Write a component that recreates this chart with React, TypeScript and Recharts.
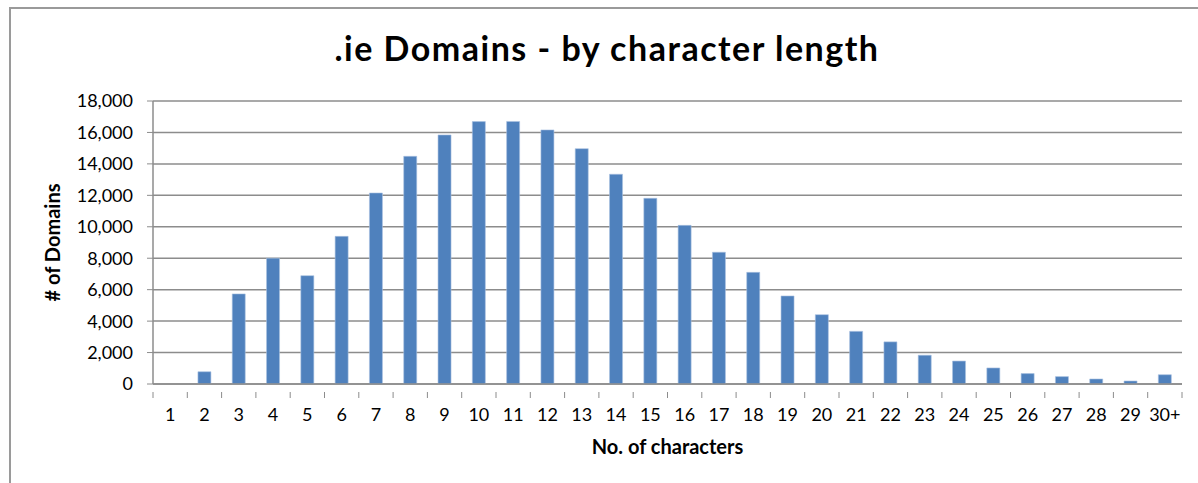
import { Bar, BarChart, CartesianGrid, XAxis, YAxis } from 'recharts';

// values
const lengths = ['1', '2', '3', '4', '5', '6', '7', '8', '9', '10', '11', '12', '13', '14', '15',
  '16', '17', '18', '19', '20', '21', '22', '23', '24', '25', '26', '27', '28', '29', '30+'];
const domainCounts = [0, 780, 5730, 8000, 6890, 9390, 12150, 14480, 15840, 16690, 16700, 16160,
  14970, 13340, 11810, 10090, 8380, 7100, 5600, 4410, 3350, 2680, 1830, 1460, 1020, 660, 470,
  320, 190, 590];
const yTicks = [0, 2000, 4000, 6000, 8000, 10000, 12000, 14000, 16000, 18000];

const data = lengths.map((len, i) => ({ len, count: domainCounts[i] }));

const FONT = 'Lato, "Open Sans", sans-serif';
const GRID = '#8c8c8c';
const BAR = '#4f81bd';
const W = 1198;
const H = 483;
const PLOT_LEFT = 153;
const PLOT_RIGHT = 1182;
const BAND = (PLOT_RIGHT - PLOT_LEFT) / lengths.length;

// Excel puts the x tick marks between categories, not under them
function CategoryTick(props: any) {
  const { x, y, payload, index } = props;
  const left = x - BAND / 2;
  return (
    <g>
      <line x1={left} x2={left} y1={y} y2={y + 6} stroke={GRID} />
      {index === lengths.length - 1 && (
        <line x1={left + BAND} x2={left + BAND} y1={y} y2={y + 6} stroke={GRID} />
      )}
      <text x={x} y={y + 29} textAnchor="middle" fontFamily={FONT} fontSize={18} fill="#000">
        {payload.value}
      </text>
    </g>
  );
}

export default function App() {
  return (
    <div style={{ position: 'fixed', left: 0, top: 0, width: W, height: H, overflow: 'hidden', background: '#fff' }}>
      <div
        style={{
          position: 'absolute',
          left: 9,
          top: 7,
          width: W,
          height: H,
          borderLeft: '2px solid #9a9a9a',
          borderTop: '2px solid #9a9a9a',
        }}
      />
      <div
        style={{
          position: 'absolute',
          left: 0,
          width: W,
          top: 27,
          textAlign: 'center',
          fontFamily: FONT,
          fontWeight: 700,
          fontSize: 34,
          letterSpacing: 1.5,
          paddingLeft: 16,
          boxSizing: 'border-box',
        }}
      >
        .ie Domains - by character length
      </div>
      <BarChart
        width={W}
        height={H}
        data={data}
        margin={{ top: 101, right: W - PLOT_RIGHT, bottom: 0, left: PLOT_LEFT - 60 }}
        barCategoryGap="31%"
        style={{ position: 'absolute', left: 0, top: 0 }}
      >
        <CartesianGrid vertical={false} stroke={GRID} strokeWidth={1.5} />
        <XAxis
          dataKey="len"
          height={99}
          axisLine={{ stroke: GRID, strokeWidth: 1.5 }}
          tickLine={false}
          interval={0}
          tick={<CategoryTick />}
          label={{
            value: 'No. of characters',
            position: 'insideBottom',
            offset: 29,
            style: { fontFamily: FONT, fontWeight: 700, fontSize: 20, fill: '#000' },
          }}
        />
        <YAxis
          width={60}
          domain={[0, 18000]}
          ticks={yTicks}
          interval={0}
          axisLine={{ stroke: GRID, strokeWidth: 1.5 }}
          tickLine={{ stroke: GRID }}
          tickSize={6}
          tickMargin={14}
          tickFormatter={(v: number) => v.toLocaleString('en-US')}
          tick={{ fontFamily: FONT, fontSize: 18, fill: '#000' }}
          label={{
            value: '# of Domains',
            angle: -90,
            position: 'left',
            offset: 40,
            style: { fontFamily: FONT, fontWeight: 700, fontSize: 20, fill: '#000', textAnchor: 'middle' },
          }}
        />
        <Bar dataKey="count" fill={BAR} stroke="#a9c1e0" strokeWidth={0.6} isAnimationActive={false} />
      </BarChart>
    </div>
  );
}
